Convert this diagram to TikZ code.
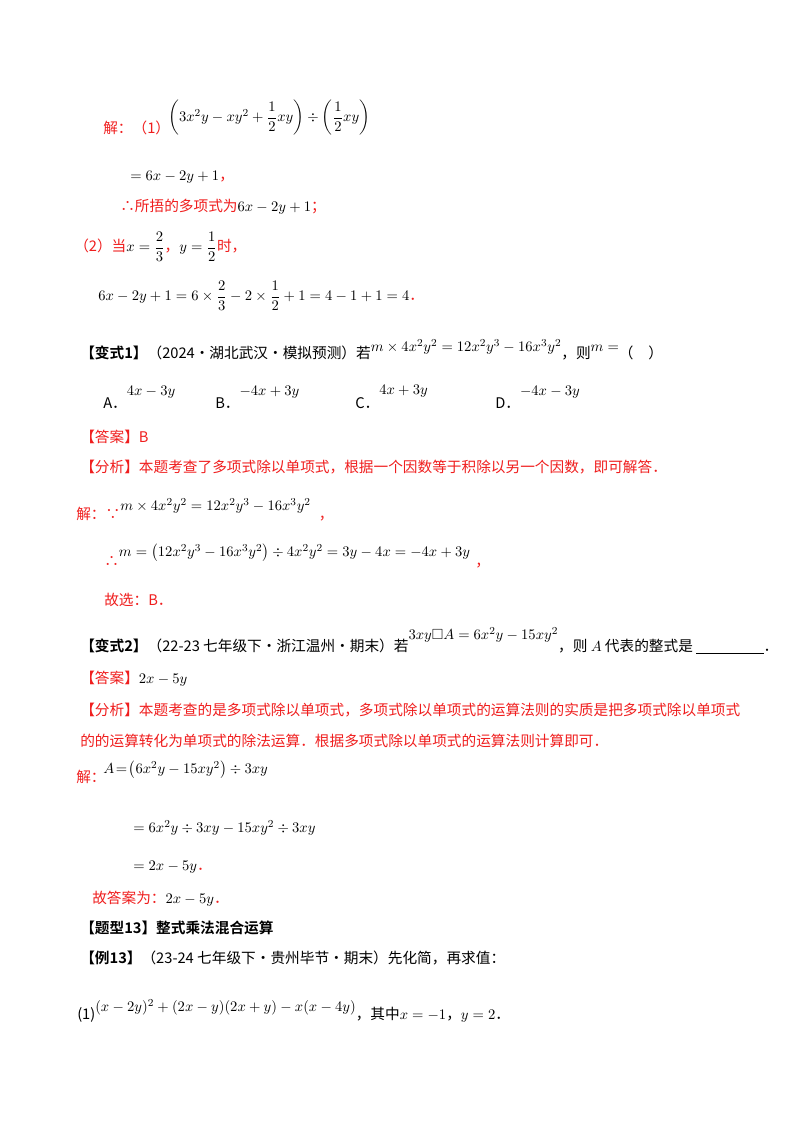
\documentclass[tikz,border=0pt]{standalone}
\usepackage{amsmath,amssymb}
\usepackage{fontspec}
\setmainfont{Liberation Serif}
\newfontfamily\cjk{Noto Sans CJK SC}
\newfontfamily\cjkb{Noto Sans CJK SC}[BoldFont={Noto Sans CJK SC Bold}]
\definecolor{rd}{RGB}{240,30,30}
\begin{document}
\begin{tikzpicture}[x=0.75pt,y=-0.75pt,
  t/.style={anchor=west,inner sep=0pt,font=\fontsize{11}{13}\selectfont\cjk},
  r/.style={t,text=rd}]
\useasboundingbox (0,0) rectangle (800,1132);
\fill[white] (0,0) rectangle (800,1132);
\node[r] (a1) at (103,128) {解：（1）};
\node[t] (a2) at (168,118) {$\left(3x^2y-xy^2+\dfrac12xy\right)\div\left(\dfrac12xy\right)$};
\node[t] (a3) at (130,177) {$=6x-2y+1$\textcolor{rd}{，}};
\node[r] (a4) at (120,207) {∴所捂的多项式为\textcolor{black}{$6x-2y+1$}；};
\node[r] (a5) at (74,247) {（2）当\textcolor{black}{$x=\dfrac23$}，\textcolor{black}{$y=\dfrac12$}时，};
\node[t] (a6) at (98,296) {$6x-2y+1=6\times\dfrac23-2\times\dfrac12+1=4-1+1=4$\textcolor{rd}{．}};
\node[t] (b1) at (80,350) {\cjkb\textbf{【变式1】}（2024·湖北武汉·模拟预测）若\raisebox{5pt}{$m\times4x^2y^2=12x^2y^3-16x^3y^2$}，则\raisebox{5pt}{$m=$}（\quad ）};
\node[t] (o1) at (103,397) {A．\raisebox{10pt}{$4x-3y$}};
\node[t] (o2) at (215,397) {B．\raisebox{10pt}{$-4x+3y$}};
\node[t] (o3) at (355,397) {C．\raisebox{10pt}{$4x+3y$}};
\node[t] (o4) at (495,397) {D．\raisebox{10pt}{$-4x-3y$}};
\node[r] (b2) at (80,437) {【答案】B};
\node[r] (b3) at (80,467) {【分析】本题考查了多项式除以单项式，根据一个因数等于积除以另一个因数，即可解答．};
\node[r] (b4) at (76,510) {解：∵\raisebox{7pt}{\textcolor{black}{$m\times4x^2y^2=12x^2y^3-16x^3y^2$}}\hspace{6pt}，};
\node[r] (b5) at (104,556) {∴\raisebox{7pt}{\textcolor{black}{$m=\left(12x^2y^3-16x^3y^2\right)\div4x^2y^2=3y-4x=-4x+3y$}}\hspace{4pt}，};
\node[r] (b6) at (104,600) {故选：B．};
\node[t] (c1) at (80,641) {\cjkb\textbf{【变式2】}（22-23 七年级下·浙江温州·期末）若\raisebox{9pt}{$3xy\square A=6x^2y-15xy^2$}，则 $A$ 代表的整式是 \underline{\hspace{4.6em}}．};
\node[r] (c2) at (80,679) {【答案】\textcolor{black}{$2x-5y$}};
\node[r] (c3) at (80,710) {【分析】本题考查的是多项式除以单项式，多项式除以单项式的运算法则的实质是把多项式除以单项式};
\node[r] (c4) at (80,741) {的的运算转化为单项式的除法运算．根据多项式除以单项式的运算法则计算即可．};
\node[r] (c5) at (76,777) {解：};
\node[t] (c6) at (103,770) {$A\!=\!\left(6x^2y-15xy^2\right)\div3xy$};
\node[t] (c7) at (133,828) {$=6x^2y\div3xy-15xy^2\div3xy$};
\node[t] (c8) at (133,867) {$=2x-5y$\textcolor{rd}{．}};
\node[r] (c9) at (92,899) {故答案为：\textcolor{black}{$2x-5y$}．};
\node[t] (d1) at (80,928) {\cjkb\textbf{【题型13】整式乘法混合运算}};
\node[t] (d2) at (80,958) {\cjkb\textbf{【例13】}（23-24 七年级下·贵州毕节·期末）先化简，再求值：};
\node[t] (d3) at (77,1011) {(1)\raisebox{6pt}{$(x-2y)^2+(2x-y)(2x+y)-x(x-4y)$}，其中$x=-1$，$y=2$．};
\end{tikzpicture}
\end{document}
